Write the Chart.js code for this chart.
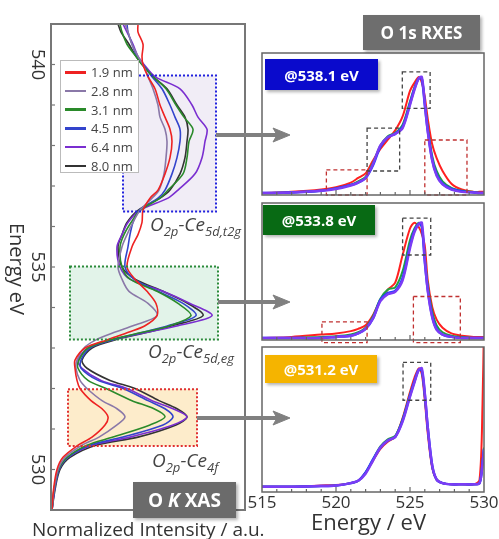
<!DOCTYPE html>
<html>
<head>
<meta charset="utf-8">
<script src="https://cdn.jsdelivr.net/npm/chart.js@4.4.1/dist/chart.umd.min.js"></script>
<style>
  body { margin: 0; background: #fff; font-family: "Open Sans", sans-serif; }
  #wrap { position: relative; width: 499px; height: 539px; overflow: hidden; }
  canvas { position: absolute; left: 0; top: 0; }
  .badge { position: absolute; color: #fff; font-weight: bold; display: flex; align-items: center;
           justify-content: center; box-shadow: 2px 2px 3px rgba(0,0,0,0.3); white-space: nowrap; }
  .lbl { position: absolute; font-style: italic; color: #444; font-size: 19px; line-height: 19px; white-space: nowrap; }
  .lbl sub { font-size: 13px; vertical-align: -5px; line-height: 0; }
  .txt { position: absolute; color: #333; white-space: nowrap; }
  #legend { position: absolute; left: 60px; top: 60px; width: 79px; height: 113px; background: #fff;
            border: 1px solid #bbb; box-sizing: border-box; padding-top: 2px; }
  #legend div { height: 18.7px; display: flex; align-items: center; font-size: 13px; color: #444; }
  #legend span.sw { display: inline-block; width: 21px; height: 2.5px; margin: 0 5px 0 4px; }
</style>
</head>
<body>
<div id="wrap">
  <canvas id="xas" width="499" height="539"></canvas>
  <canvas id="rx1" width="499" height="539"></canvas>
  <canvas id="rx2" width="499" height="539"></canvas>
  <canvas id="rx3" width="499" height="539"></canvas>
  <div id="legend"></div>

  <svg width="499" height="539" style="position:absolute;left:0;top:0">
    <g fill="#808080" stroke="#808080">
      <line x1="216" y1="135" x2="280" y2="135" stroke-width="4"/>
      <polygon points="290,135 273,128 277,135 273,142" stroke-width="1"/>
      <line x1="218" y1="302" x2="280" y2="302" stroke-width="4"/>
      <polygon points="290,302 273,295 277,302 273,309" stroke-width="1"/>
      <line x1="197" y1="418" x2="280" y2="418" stroke-width="4"/>
      <polygon points="290,418 273,411 277,418 273,425" stroke-width="1"/>
    </g>
  </svg>

  <div class="lbl" style="left:150px;top:215px">O<sub>2p</sub>-Ce<sub>5d,t2g</sub></div>
  <div class="lbl" style="left:148px;top:342px">O<sub>2p</sub>-Ce<sub>5d,eg</sub></div>
  <div class="lbl" style="left:152px;top:451px">O<sub>2p</sub>-Ce<sub>4f</sub></div>

  <div class="badge" style="left:363px;top:15px;width:117px;height:35px;background:#6e6e6e;font-size:17px">O 1s RXES</div>
  <div class="badge" style="left:265px;top:59px;width:113px;height:31px;background:#0a0acc;font-size:15px">@538.1 eV</div>
  <div class="badge" style="left:263px;top:205px;width:112px;height:30px;background:#086a14;font-size:15px">@533.8 eV</div>
  <div class="badge" style="left:265px;top:355px;width:112px;height:28px;background:#f5b400;font-size:15px">@531.2 eV</div>
  <div class="badge" style="left:133px;top:482px;width:103px;height:36px;background:#6b6b6b;font-size:19px">O&nbsp;<i>K</i>&nbsp;XAS</div>

  <div class="txt" style="left:32px;top:516px;font-size:19px">Normalized Intensity / a.u.</div>
  <div class="txt" style="left:311px;top:506px;font-size:22px">Energy / eV</div>
</div>

<script>
// ---- O K XAS (energy on vertical axis) ----
const xasEnergy = [529.0, 529.5, 530.0, 530.3, 530.6, 530.8, 531.1, 531.3, 531.5, 531.7, 532.0, 532.2, 532.5, 532.7,
  533.0, 533.2, 533.4, 533.55, 533.8, 534.1, 534.4, 534.7, 535.0, 535.5, 535.8, 536.1, 536.4, 536.7, 536.9, 537.3,
  537.7, 538.1, 538.4, 538.7, 539.0, 539.4, 539.7, 540.0, 540.2, 540.5, 540.8, 541.0];

const xasSizes = ['1.9 nm', '2.8 nm', '3.1 nm', '4.5 nm', '6.4 nm', '8.0 nm'];

const xas19 = [0.01,0.025,0.06,0.12,0.27,0.41,0.54,0.57,0.51,0.40,0.29,0.26,0.24,0.24,0.34,0.56,0.79,0.94,1.06,1.05,
  0.96,0.84,0.76,0.81,0.87,0.91,0.92,0.99,1.07,1.14,1.19,1.21,1.19,1.14,1.09,1.04,0.97,0.92,0.91,0.92,0.87,0.87];
const xas28 = [0.01,0.03,0.07,0.14,0.31,0.48,0.66,0.74,0.66,0.51,0.36,0.29,0.25,0.26,0.33,0.45,0.65,0.82,1.06,0.97,
  0.78,0.71,0.67,0.71,0.76,0.82,0.89,1.01,1.08,1.13,1.15,1.16,1.14,1.09,1.07,1.02,0.97,0.92,0.87,0.81,0.77,0.74];
const xas31 = [0.01,0.03,0.075,0.16,0.36,0.62,0.99,1.14,1.03,0.81,0.55,0.37,0.27,0.28,0.37,0.59,0.94,1.19,1.40,1.27,
  1.06,0.79,0.71,0.69,0.73,0.80,0.89,1.09,1.17,1.32,1.36,1.38,1.42,1.33,1.25,1.15,1.02,0.91,0.85,0.76,0.71,0.69];
const xas45 = [0.01,0.035,0.08,0.17,0.39,0.72,1.12,1.22,1.14,0.97,0.72,0.47,0.30,0.30,0.39,0.61,0.94,1.17,1.45,1.32,
  1.07,0.83,0.74,0.77,0.79,0.82,0.88,1.07,1.14,1.21,1.26,1.29,1.29,1.24,1.19,1.11,1.01,0.92,0.86,0.81,0.77,0.76];
const xas64 = [0.01,0.035,0.08,0.17,0.41,0.79,1.22,1.36,1.22,1.01,0.76,0.50,0.31,0.27,0.37,0.61,0.99,1.27,1.61,1.39,
  1.12,0.79,0.69,0.66,0.71,0.77,0.89,1.17,1.27,1.44,1.51,1.54,1.56,1.47,1.41,1.29,1.04,0.93,0.87,0.82,0.76,0.72];
const xas80 = [0.01,0.04,0.09,0.19,0.45,0.87,1.25,1.36,1.26,1.08,0.84,0.59,0.36,0.31,0.41,0.64,0.99,1.21,1.52,1.37,
  1.12,0.84,0.71,0.67,0.71,0.76,0.87,1.09,1.19,1.29,1.34,1.36,1.37,1.34,1.26,1.16,1.02,0.91,0.85,0.78,0.70,0.67];

const xasTickLabels = [530, 535, 540];

// ---- O 1s RXES ----
const rxEnergy = [515, 517, 519, 520, 521, 521.5, 522, 522.5, 523, 523.5, 524, 524.5, 525, 525.3, 525.6, 525.8,
  526, 526.2, 526.5, 526.8, 527.2, 527.8, 528.5, 529.3, 529.7, 529.9, 530];

const rx538Red    = [0.0,0.01,0.03,0.05,0.09,0.13,0.17,0.28,0.38,0.46,0.54,0.66,0.88,0.95,1.0,0.95,0.83,0.64,0.42,0.30,0.19,0.08,0.03,0.01,0.01,0.01,0.01];
const rx538Green  = [0.0,0.005,0.02,0.04,0.07,0.10,0.14,0.26,0.41,0.49,0.52,0.59,0.79,0.91,0.99,0.99,0.78,0.57,0.32,0.19,0.10,0.045,0.02,0.01,0.0,0.0,0.0];
const rx538Blue   = [0.0,0.005,0.02,0.04,0.07,0.09,0.13,0.24,0.40,0.48,0.51,0.57,0.77,0.90,0.99,0.98,0.76,0.54,0.29,0.16,0.08,0.035,0.015,0.005,0.0,0.0,0.0];
const rx538Purple = [0.0,0.005,0.02,0.035,0.065,0.09,0.13,0.25,0.41,0.48,0.51,0.56,0.76,0.89,0.99,1.0,0.77,0.53,0.28,0.15,0.075,0.03,0.01,0.005,0.0,0.0,0.0];

const rx533Red    = [0.0,0.01,0.03,0.04,0.06,0.08,0.11,0.20,0.33,0.42,0.48,0.72,0.95,1.0,0.96,0.90,0.80,0.50,0.27,0.16,0.09,0.04,0.02,0.01,0.01,0.01,0.01];
const rx533Green  = [0.0,0.0,0.01,0.015,0.03,0.05,0.09,0.19,0.34,0.42,0.44,0.58,0.85,0.95,1.0,0.96,0.70,0.46,0.23,0.11,0.05,0.02,0.01,0.0,0.0,0.0,0.0];
const rx533Blue   = [0.0,0.0,0.0,0.01,0.02,0.04,0.08,0.17,0.33,0.39,0.41,0.52,0.80,0.93,0.99,0.97,0.66,0.42,0.19,0.08,0.03,0.01,0.0,0.0,0.0,0.0,0.0];
const rx533Purple = [0.0,0.0,0.0,0.01,0.02,0.04,0.08,0.17,0.32,0.38,0.40,0.50,0.78,0.92,0.99,1.0,0.68,0.41,0.18,0.07,0.03,0.01,0.0,0.0,0.0,0.0,0.0];

const rx531Red    = [0.0,0.0,0.01,0.015,0.03,0.05,0.12,0.22,0.32,0.38,0.42,0.58,0.80,0.92,1.0,0.95,0.73,0.45,0.16,0.06,0.03,0.02,0.02,0.02,0.06,0.7,1.4];
const rx531Green  = [0.0,0.0,0.005,0.01,0.03,0.05,0.12,0.23,0.34,0.40,0.43,0.57,0.78,0.89,0.99,0.98,0.77,0.49,0.17,0.06,0.03,0.02,0.02,0.02,0.03,0.22,0.33];
const rx531Blue   = [0.0,0.0,0.005,0.01,0.03,0.05,0.12,0.23,0.33,0.39,0.42,0.56,0.77,0.89,0.99,0.98,0.78,0.50,0.18,0.06,0.03,0.02,0.02,0.02,0.03,0.20,0.32];
const rx531Purple = [0.0,0.0,0.005,0.01,0.03,0.05,0.11,0.22,0.33,0.39,0.42,0.55,0.76,0.88,0.99,1.0,0.79,0.50,0.18,0.06,0.03,0.02,0.02,0.02,0.03,0.19,0.31];

const rxTickLabels = [515, 520, 525, 530];

// highlighted regions (data units)
const xasBoxes = [
  { x0: 0.72, x1: 1.65, y0: 536.37, y1: 539.73, bg: '#f1edf6', edge: '#2222dd' },
  { x0: 0.19, x1: 1.67, y0: 533.21, y1: 535.01, bg: '#e2f3e9', edge: '#2a8a3a' },
  { x0: 0.17, x1: 1.46, y0: 530.58, y1: 531.98, bg: '#fdeccb', edge: '#e03030' }
];
const rx538Boxes = [
  { x0: 524.48, x1: 526.36, y0: 0.73, y1: 1.045, edge: '#444' },
  { x0: 522.1, x1: 524.3, y0: 0.19, y1: 0.56, edge: '#444' },
  { x0: 519.35, x1: 522.1, y0: -0.017, y1: 0.2, edge: '#c03030' },
  { x0: 526.0, x1: 528.85, y0: -0.017, y1: 0.457, edge: '#c03030' }
];
const rx533Boxes = [
  { x0: 524.5, x1: 526.4, y0: 0.72, y1: 1.04, edge: '#444' },
  { x0: 519.05, x1: 522.1, y0: -0.04, y1: 0.14, edge: '#c03030' },
  { x0: 525.23, x1: 528.4, y0: -0.04, y1: 0.36, edge: '#c03030' }
];
const rx531Boxes = [
  { x0: 524.53, x1: 526.4, y0: 0.73, y1: 1.05, edge: '#444' }
];

function rectOf(xs, ys, b) {
  const l = xs.getPixelForValue(b.x0), r = xs.getPixelForValue(b.x1);
  const t = ys.getPixelForValue(b.y1), bt = ys.getPixelForValue(b.y0);
  return { l, t, w: r - l, h: bt - t };
}

// frame, inward ticks, rotated labels and highlight boxes
function makeFrame(o) {
  return {
    id: 'frame',
    beforeDatasetsDraw(chart) {
      const ctx = chart.ctx, xs = chart.scales.x, ys = chart.scales.y;
      (o.boxes || []).forEach(b => {
        if (!b.bg) return;
        const r = rectOf(xs, ys, b);
        ctx.fillStyle = b.bg;
        ctx.fillRect(r.l, r.t, r.w, r.h);
      });
    },
    afterDatasetsDraw(chart) {
      const ctx = chart.ctx, a = chart.chartArea, xs = chart.scales.x, ys = chart.scales.y;
      ctx.save();
      (o.boxes || []).forEach(b => {
        const r = rectOf(xs, ys, b);
        ctx.strokeStyle = b.edge;
        ctx.lineWidth = o.boxWidth;
        ctx.setLineDash(o.boxDash);
        ctx.strokeRect(r.l, r.t, r.w, r.h);
      });
      ctx.setLineDash([]);
      ctx.strokeStyle = o.color;
      ctx.lineWidth = o.width;
      ctx.strokeRect(a.left, a.top, a.right - a.left, a.bottom - a.top);

      ctx.lineWidth = 1.2;
      if (o.yTicks) {
        for (let v = o.yTicks.from; v <= o.yTicks.to + 1e-9; v += o.yTicks.step) {
          const py = ys.getPixelForValue(v);
          ctx.beginPath(); ctx.moveTo(a.left, py); ctx.lineTo(a.left + o.yTicks.len, py); ctx.stroke();
        }
      }
      if (o.xTicks) {
        for (let v = o.xTicks.from; v <= o.xTicks.to + 1e-9; v += o.xTicks.step) {
          const px = xs.getPixelForValue(v);
          const len = v % 5 === 0 ? o.xTicks.len + 2 : o.xTicks.len;
          ctx.beginPath(); ctx.moveTo(px, a.bottom); ctx.lineTo(px, a.bottom - len); ctx.stroke();
        }
      }
      ctx.fillStyle = '#333';
      if (o.yLabels) {
        ctx.font = o.yLabels.font;
        ctx.textAlign = 'center';
        ctx.textBaseline = 'alphabetic';
        o.yLabels.values.forEach(v => {
          ctx.save();
          ctx.translate(a.left - o.yLabels.offset, ys.getPixelForValue(v));
          ctx.rotate(Math.PI / 2);
          ctx.fillText(String(v), 0, 0);
          ctx.restore();
        });
        ctx.save();
        ctx.font = o.yLabels.titleFont;
        ctx.translate(o.yLabels.titleX, (a.top + a.bottom) / 2 + 2);
        ctx.rotate(Math.PI / 2);
        ctx.fillText(o.yLabels.title, 0, 0);
        ctx.restore();
      }
      if (o.xLabels) {
        ctx.font = o.xLabels.font;
        ctx.textAlign = 'center';
        ctx.textBaseline = 'middle';
        o.xLabels.values.forEach(v => {
          ctx.fillText(String(v), xs.getPixelForValue(v), a.bottom + o.xLabels.offset);
        });
      }
      ctx.restore();
    }
  };
}

// legend
const xasColors = ['#ee2222', '#8a78a8', '#2a8a2a', '#3344cc', '#7a2ed0', '#333333'];
const legendEl = document.getElementById('legend');
xasSizes.forEach((s, i) => {
  const row = document.createElement('div');
  row.innerHTML = '<span class="sw" style="background:' + xasColors[i] + '"></span>' + s;
  legendEl.appendChild(row);
});

const xasValues = [xas19, xas28, xas31, xas45, xas64, xas80];
new Chart(document.getElementById('xas'), {
  type: 'scatter',
  data: {
    datasets: xasValues.map((vals, i) => ({
      label: xasSizes[i],
      data: xasEnergy.map((e, k) => ({ x: vals[k], y: e })),
      showLine: true,
      borderColor: xasColors[i],
      borderWidth: 1.6,
      pointRadius: 0,
      tension: 0.3
    }))
  },
  options: {
    responsive: false,
    animation: false,
    layout: { padding: { left: 51, top: 24, right: 254, bottom: 29 } },
    scales: {
      x: { display: false, min: 0, max: 1.94 },
      y: { display: false, min: 529, max: 541 }
    },
    plugins: { legend: { display: false }, tooltip: { enabled: false } }
  },
  plugins: [makeFrame({
    color: '#777', width: 2, boxWidth: 2, boxDash: [2, 2],
    yTicks: { from: 530, to: 540, step: 1, len: 4 },
    yLabels: { values: xasTickLabels, font: '18px "Open Sans"', offset: 19,
               title: 'Energy eV', titleFont: '20px "Open Sans"', titleX: 10 },
    boxes: xasBoxes
  })]
});

// RXES panels
const rxColors = ['#7b3cf5', '#2040ff', '#22a040', '#ff2020'];
const rxWidths = [2.5, 2.5, 2, 2];
function rxChart(id, series, top, bottom, ymin, ymax, boxes, withLabels) {
  new Chart(document.getElementById(id), {
    type: 'scatter',
    data: {
      datasets: series.map((vals, i) => ({
        data: rxEnergy.map((e, k) => ({ x: e, y: vals[k] })),
        showLine: true,
        borderColor: rxColors[i],
        borderWidth: rxWidths[i],
        pointRadius: 0,
        tension: 0.3
      }))
    },
    options: {
      responsive: false,
      animation: false,
      layout: { padding: { left: 262, top: top, right: 15, bottom: 539 - bottom } },
      scales: {
        x: { display: false, min: 515, max: 530 },
        y: { display: false, min: ymin, max: ymax }
      },
      plugins: { legend: { display: false }, tooltip: { enabled: false } }
    },
    plugins: [makeFrame({
      color: '#666', width: 1.5, boxWidth: 1.3, boxDash: [4, 3],
      xTicks: { from: 516, to: 529, step: 1, len: 3 },
      xLabels: withLabels ? { values: rxTickLabels, font: '17px "Open Sans"', offset: 11 } : null,
      boxes: boxes
    })]
  });
}

rxChart('rx1', [rx538Purple, rx538Blue, rx538Green, rx538Red], 53, 195, -0.017, 1.207, rx538Boxes, false);
rxChart('rx2', [rx533Purple, rx533Blue, rx533Green, rx533Red], 203, 340, -0.017, 1.171, rx533Boxes, false);
rxChart('rx3', [rx531Purple, rx531Blue, rx531Green, rx531Red], 347, 492, -0.045, 1.18, rx531Boxes, true);
</script>
</body>
</html>
